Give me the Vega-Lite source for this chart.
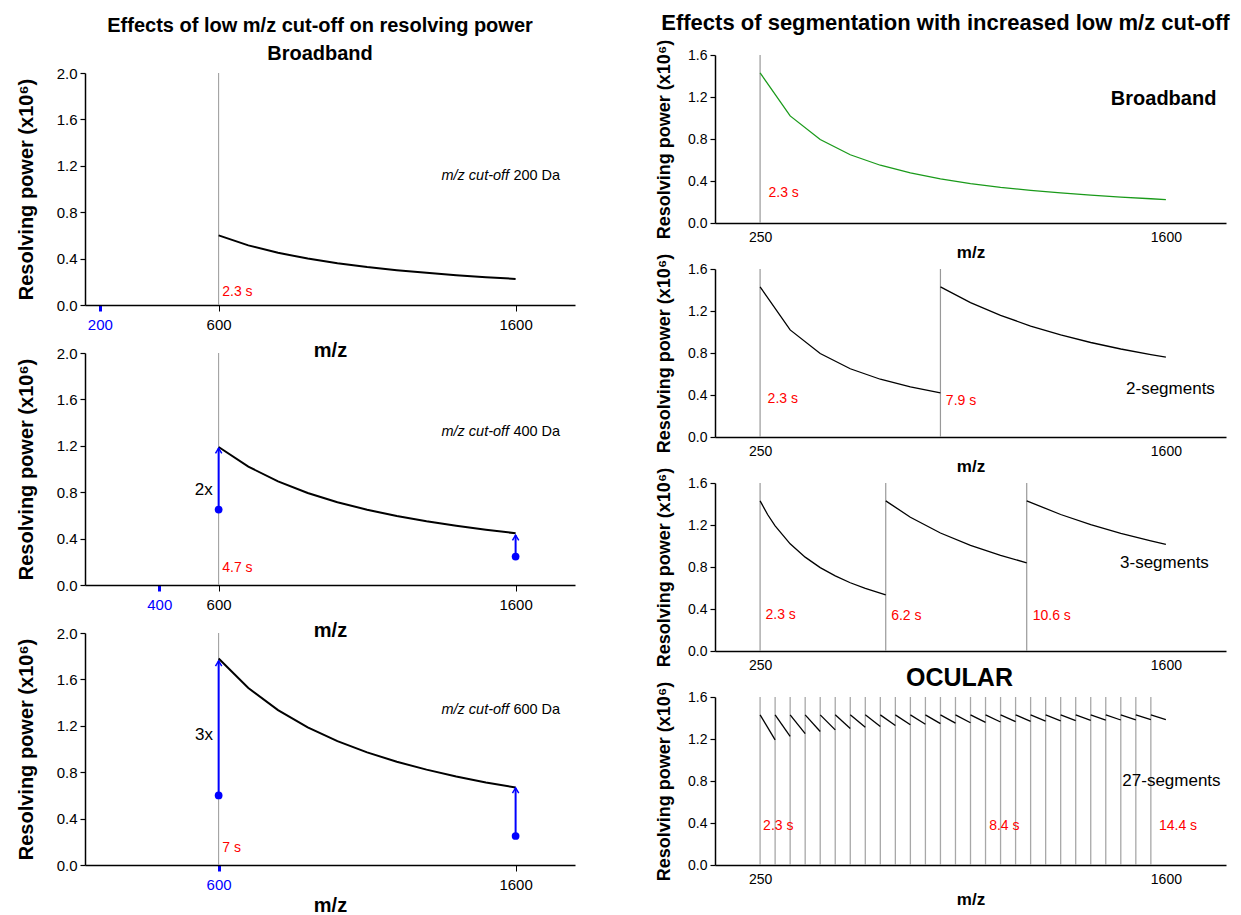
{
 "$schema": "https://vega.github.io/schema/vega-lite/v6.json",
 "padding": {"left": 16, "top": 12, "right": 2, "bottom": 0},
 "config": {
  "font": "Liberation Sans",
  "view": {"stroke": null},
  "axis": {"grid": false, "domainColor": "#000", "domainWidth": 1.5, "tickColor": "#000", "labelColor": "#000", "titleColor": "#000", "titleFontWeight": "bold", "labelFont": "Liberation Sans", "titleFont": "Liberation Sans"},
  "axisY": {"tickSize": 5, "tickWidth": 1.2, "labelPadding": 3},
  "axisX": {"tickSize": 6, "labelPadding": 3},
  "title": {"font": "Liberation Sans", "color": "#000", "fontWeight": "bold", "frame": "group"},
  "text": {"font": "Liberation Sans"}
 },
 "datasets": {
  "vlines": [
   {"p": "L200", "mz": 600, "rp": 0, "top": 2}, {"p": "L400", "mz": 600, "rp": 0, "top": 2}, {"p": "L600", "mz": 600, "rp": 0, "top": 2},
   {"p": "RB", "mz": 250, "rp": 0, "top": 1.6},
   {"p": "R2", "mz": 250, "rp": 0, "top": 1.6}, {"p": "R2", "mz": 850, "rp": 0, "top": 1.6},
   {"p": "R3", "mz": 250, "rp": 0, "top": 1.6}, {"p": "R3", "mz": 668, "rp": 0, "top": 1.6}, {"p": "R3", "mz": 1137, "rp": 0, "top": 1.6},
   {"p": "R27", "mz": 250, "rp": 0, "top": 1.6}, {"p": "R27", "mz": 300, "rp": 0, "top": 1.6}, {"p": "R27", "mz": 350, "rp": 0, "top": 1.6}, {"p": "R27", "mz": 400, "rp": 0, "top": 1.6}, {"p": "R27", "mz": 450, "rp": 0, "top": 1.6}, {"p": "R27", "mz": 500, "rp": 0, "top": 1.6}, {"p": "R27", "mz": 550, "rp": 0, "top": 1.6}, {"p": "R27", "mz": 600, "rp": 0, "top": 1.6}, {"p": "R27", "mz": 650, "rp": 0, "top": 1.6}, {"p": "R27", "mz": 700, "rp": 0, "top": 1.6}, {"p": "R27", "mz": 750, "rp": 0, "top": 1.6}, {"p": "R27", "mz": 800, "rp": 0, "top": 1.6}, {"p": "R27", "mz": 850, "rp": 0, "top": 1.6}, {"p": "R27", "mz": 900, "rp": 0, "top": 1.6}, {"p": "R27", "mz": 950, "rp": 0, "top": 1.6}, {"p": "R27", "mz": 1000, "rp": 0, "top": 1.6}, {"p": "R27", "mz": 1050, "rp": 0, "top": 1.6}, {"p": "R27", "mz": 1100, "rp": 0, "top": 1.6}, {"p": "R27", "mz": 1150, "rp": 0, "top": 1.6}, {"p": "R27", "mz": 1200, "rp": 0, "top": 1.6}, {"p": "R27", "mz": 1250, "rp": 0, "top": 1.6}, {"p": "R27", "mz": 1300, "rp": 0, "top": 1.6}, {"p": "R27", "mz": 1350, "rp": 0, "top": 1.6}, {"p": "R27", "mz": 1400, "rp": 0, "top": 1.6}, {"p": "R27", "mz": 1450, "rp": 0, "top": 1.6}, {"p": "R27", "mz": 1500, "rp": 0, "top": 1.6}, {"p": "R27", "mz": 1550, "rp": 0, "top": 1.6}
  ],
  "curves": [
   {"p": "L200", "s": 1, "mz": 600, "rp": 0.6}, {"p": "L200", "s": 1, "mz": 700, "rp": 0.514}, {"p": "L200", "s": 1, "mz": 800, "rp": 0.45}, {"p": "L200", "s": 1, "mz": 900, "rp": 0.4}, {"p": "L200", "s": 1, "mz": 1000, "rp": 0.36}, {"p": "L200", "s": 1, "mz": 1100, "rp": 0.327}, {"p": "L200", "s": 1, "mz": 1200, "rp": 0.3}, {"p": "L200", "s": 1, "mz": 1300, "rp": 0.277}, {"p": "L200", "s": 1, "mz": 1400, "rp": 0.257}, {"p": "L200", "s": 1, "mz": 1500, "rp": 0.24}, {"p": "L200", "s": 1, "mz": 1600, "rp": 0.225},
   {"p": "L400", "s": 1, "mz": 600, "rp": 1.19}, {"p": "L400", "s": 1, "mz": 700, "rp": 1.02}, {"p": "L400", "s": 1, "mz": 800, "rp": 0.893}, {"p": "L400", "s": 1, "mz": 900, "rp": 0.793}, {"p": "L400", "s": 1, "mz": 1000, "rp": 0.714}, {"p": "L400", "s": 1, "mz": 1100, "rp": 0.649}, {"p": "L400", "s": 1, "mz": 1200, "rp": 0.595}, {"p": "L400", "s": 1, "mz": 1300, "rp": 0.549}, {"p": "L400", "s": 1, "mz": 1400, "rp": 0.51}, {"p": "L400", "s": 1, "mz": 1500, "rp": 0.476}, {"p": "L400", "s": 1, "mz": 1600, "rp": 0.446},
   {"p": "L600", "s": 1, "mz": 600, "rp": 1.78}, {"p": "L600", "s": 1, "mz": 700, "rp": 1.526}, {"p": "L600", "s": 1, "mz": 800, "rp": 1.335}, {"p": "L600", "s": 1, "mz": 900, "rp": 1.187}, {"p": "L600", "s": 1, "mz": 1000, "rp": 1.068}, {"p": "L600", "s": 1, "mz": 1100, "rp": 0.971}, {"p": "L600", "s": 1, "mz": 1200, "rp": 0.89}, {"p": "L600", "s": 1, "mz": 1300, "rp": 0.822}, {"p": "L600", "s": 1, "mz": 1400, "rp": 0.763}, {"p": "L600", "s": 1, "mz": 1500, "rp": 0.712}, {"p": "L600", "s": 1, "mz": 1600, "rp": 0.668},
   {"p": "RB", "s": 1, "mz": 250, "rp": 1.43}, {"p": "RB", "s": 1, "mz": 350, "rp": 1.02}, {"p": "RB", "s": 1, "mz": 450, "rp": 0.795}, {"p": "RB", "s": 1, "mz": 550, "rp": 0.65}, {"p": "RB", "s": 1, "mz": 650, "rp": 0.55}, {"p": "RB", "s": 1, "mz": 750, "rp": 0.477}, {"p": "RB", "s": 1, "mz": 850, "rp": 0.42}, {"p": "RB", "s": 1, "mz": 950, "rp": 0.376}, {"p": "RB", "s": 1, "mz": 1050, "rp": 0.34}, {"p": "RB", "s": 1, "mz": 1150, "rp": 0.311}, {"p": "RB", "s": 1, "mz": 1250, "rp": 0.286}, {"p": "RB", "s": 1, "mz": 1350, "rp": 0.265}, {"p": "RB", "s": 1, "mz": 1450, "rp": 0.247}, {"p": "RB", "s": 1, "mz": 1550, "rp": 0.231}, {"p": "RB", "s": 1, "mz": 1600, "rp": 0.223},
   {"p": "R2", "s": 1, "mz": 250, "rp": 1.43}, {"p": "R2", "s": 1, "mz": 350, "rp": 1.02}, {"p": "R2", "s": 1, "mz": 450, "rp": 0.795}, {"p": "R2", "s": 1, "mz": 550, "rp": 0.65}, {"p": "R2", "s": 1, "mz": 650, "rp": 0.55}, {"p": "R2", "s": 1, "mz": 750, "rp": 0.477}, {"p": "R2", "s": 1, "mz": 850, "rp": 0.42},
   {"p": "R2", "s": 2, "mz": 850, "rp": 1.43}, {"p": "R2", "s": 2, "mz": 950, "rp": 1.28}, {"p": "R2", "s": 2, "mz": 1050, "rp": 1.158}, {"p": "R2", "s": 2, "mz": 1150, "rp": 1.057}, {"p": "R2", "s": 2, "mz": 1250, "rp": 0.972}, {"p": "R2", "s": 2, "mz": 1350, "rp": 0.9}, {"p": "R2", "s": 2, "mz": 1450, "rp": 0.838}, {"p": "R2", "s": 2, "mz": 1550, "rp": 0.784}, {"p": "R2", "s": 2, "mz": 1600, "rp": 0.76},
   {"p": "R3", "s": 1, "mz": 250, "rp": 1.43}, {"p": "R3", "s": 1, "mz": 275, "rp": 1.3}, {"p": "R3", "s": 1, "mz": 300, "rp": 1.192}, {"p": "R3", "s": 1, "mz": 350, "rp": 1.021}, {"p": "R3", "s": 1, "mz": 400, "rp": 0.894}, {"p": "R3", "s": 1, "mz": 450, "rp": 0.794}, {"p": "R3", "s": 1, "mz": 500, "rp": 0.715}, {"p": "R3", "s": 1, "mz": 550, "rp": 0.65}, {"p": "R3", "s": 1, "mz": 600, "rp": 0.596}, {"p": "R3", "s": 1, "mz": 668, "rp": 0.535},
   {"p": "R3", "s": 2, "mz": 668, "rp": 1.43}, {"p": "R3", "s": 2, "mz": 750, "rp": 1.274}, {"p": "R3", "s": 2, "mz": 850, "rp": 1.124}, {"p": "R3", "s": 2, "mz": 950, "rp": 1.005}, {"p": "R3", "s": 2, "mz": 1050, "rp": 0.91}, {"p": "R3", "s": 2, "mz": 1137, "rp": 0.84},
   {"p": "R3", "s": 3, "mz": 1137, "rp": 1.43}, {"p": "R3", "s": 3, "mz": 1250, "rp": 1.3}, {"p": "R3", "s": 3, "mz": 1350, "rp": 1.204}, {"p": "R3", "s": 3, "mz": 1450, "rp": 1.121}, {"p": "R3", "s": 3, "mz": 1550, "rp": 1.049}, {"p": "R3", "s": 3, "mz": 1600, "rp": 1.016},
   {"p": "R27", "s": 1, "mz": 250, "rp": 1.43}, {"p": "R27", "s": 1, "mz": 300, "rp": 1.192},
   {"p": "R27", "s": 2, "mz": 300, "rp": 1.43}, {"p": "R27", "s": 2, "mz": 350, "rp": 1.226},
   {"p": "R27", "s": 3, "mz": 350, "rp": 1.43}, {"p": "R27", "s": 3, "mz": 400, "rp": 1.251},
   {"p": "R27", "s": 4, "mz": 400, "rp": 1.43}, {"p": "R27", "s": 4, "mz": 450, "rp": 1.271},
   {"p": "R27", "s": 5, "mz": 450, "rp": 1.43}, {"p": "R27", "s": 5, "mz": 500, "rp": 1.287},
   {"p": "R27", "s": 6, "mz": 500, "rp": 1.43}, {"p": "R27", "s": 6, "mz": 550, "rp": 1.3},
   {"p": "R27", "s": 7, "mz": 550, "rp": 1.43}, {"p": "R27", "s": 7, "mz": 600, "rp": 1.311},
   {"p": "R27", "s": 8, "mz": 600, "rp": 1.43}, {"p": "R27", "s": 8, "mz": 650, "rp": 1.32},
   {"p": "R27", "s": 9, "mz": 650, "rp": 1.43}, {"p": "R27", "s": 9, "mz": 700, "rp": 1.328},
   {"p": "R27", "s": 10, "mz": 700, "rp": 1.43}, {"p": "R27", "s": 10, "mz": 750, "rp": 1.335},
   {"p": "R27", "s": 11, "mz": 750, "rp": 1.43}, {"p": "R27", "s": 11, "mz": 800, "rp": 1.341},
   {"p": "R27", "s": 12, "mz": 800, "rp": 1.43}, {"p": "R27", "s": 12, "mz": 850, "rp": 1.346},
   {"p": "R27", "s": 13, "mz": 850, "rp": 1.43}, {"p": "R27", "s": 13, "mz": 900, "rp": 1.351},
   {"p": "R27", "s": 14, "mz": 900, "rp": 1.43}, {"p": "R27", "s": 14, "mz": 950, "rp": 1.355},
   {"p": "R27", "s": 15, "mz": 950, "rp": 1.43}, {"p": "R27", "s": 15, "mz": 1000, "rp": 1.359},
   {"p": "R27", "s": 16, "mz": 1000, "rp": 1.43}, {"p": "R27", "s": 16, "mz": 1050, "rp": 1.362},
   {"p": "R27", "s": 17, "mz": 1050, "rp": 1.43}, {"p": "R27", "s": 17, "mz": 1100, "rp": 1.365},
   {"p": "R27", "s": 18, "mz": 1100, "rp": 1.43}, {"p": "R27", "s": 18, "mz": 1150, "rp": 1.368},
   {"p": "R27", "s": 19, "mz": 1150, "rp": 1.43}, {"p": "R27", "s": 19, "mz": 1200, "rp": 1.37},
   {"p": "R27", "s": 20, "mz": 1200, "rp": 1.43}, {"p": "R27", "s": 20, "mz": 1250, "rp": 1.373},
   {"p": "R27", "s": 21, "mz": 1250, "rp": 1.43}, {"p": "R27", "s": 21, "mz": 1300, "rp": 1.375},
   {"p": "R27", "s": 22, "mz": 1300, "rp": 1.43}, {"p": "R27", "s": 22, "mz": 1350, "rp": 1.377},
   {"p": "R27", "s": 23, "mz": 1350, "rp": 1.43}, {"p": "R27", "s": 23, "mz": 1400, "rp": 1.379},
   {"p": "R27", "s": 24, "mz": 1400, "rp": 1.43}, {"p": "R27", "s": 24, "mz": 1450, "rp": 1.381},
   {"p": "R27", "s": 25, "mz": 1450, "rp": 1.43}, {"p": "R27", "s": 25, "mz": 1500, "rp": 1.382},
   {"p": "R27", "s": 26, "mz": 1500, "rp": 1.43}, {"p": "R27", "s": 26, "mz": 1550, "rp": 1.384},
   {"p": "R27", "s": 27, "mz": 1550, "rp": 1.43}, {"p": "R27", "s": 27, "mz": 1600, "rp": 1.385}
  ],
  "times": [
   {"p": "L200", "mz": 612, "rp": 0.115, "t": "2.3 s"},
   {"p": "L400", "mz": 612, "rp": 0.145, "t": "4.7 s"},
   {"p": "L600", "mz": 612, "rp": 0.15, "t": "7 s"},
   {"p": "RB", "mz": 278, "rp": 0.29, "t": "2.3 s"},
   {"p": "R2", "mz": 275, "rp": 0.36, "t": "2.3 s"}, {"p": "R2", "mz": 868, "rp": 0.34, "t": "7.9 s"},
   {"p": "R3", "mz": 268, "rp": 0.345, "t": "2.3 s"}, {"p": "R3", "mz": 686, "rp": 0.33, "t": "6.2 s"}, {"p": "R3", "mz": 1157, "rp": 0.33, "t": "10.6 s"},
   {"p": "R27", "mz": 260, "rp": 0.37, "t": "2.3 s"}, {"p": "R27", "mz": 1012, "rp": 0.37, "t": "8.4 s"}, {"p": "R27", "mz": 1577, "rp": 0.37, "t": "14.4 s"}
  ],
  "notes": [
   {"p": "L200", "mz": 1750, "rp": 1.11, "em": "m/z cut-off", "t": "200 Da"},
   {"p": "L400", "mz": 1750, "rp": 1.32, "em": "m/z cut-off", "t": "400 Da"},
   {"p": "L600", "mz": 1750, "rp": 1.335, "em": "m/z cut-off", "t": "600 Da"},
   {"p": "RB", "mz": 1768, "rp": 1.18, "t": "Broadband"},
   {"p": "R2", "mz": 1763, "rp": 0.457, "t": "2-segments"},
   {"p": "R3", "mz": 1743, "rp": 0.84, "t": "3-segments"},
   {"p": "R27", "mz": 1782, "rp": 0.8, "t": "27-segments"}
  ],
  "mults": [
   {"p": "L400", "mz": 550, "rp": 0.82, "t": "2x"},
   {"p": "L600", "mz": 551, "rp": 1.12, "t": "3x"}
  ],
  "arrows": [
   {"p": "L400", "mz": 600, "rp": 0.65, "tip": 1.18},
   {"p": "L400", "mz": 1600, "rp": 0.245, "tip": 0.43},
   {"p": "L600", "mz": 600, "rp": 0.6, "tip": 1.76},
   {"p": "L600", "mz": 1600, "rp": 0.25, "tip": 0.665}
  ]
 },
 "hconcat": [
  {
   "bounds": "flush",
   "spacing": 0,
   "vconcat": [
    {
     "width": 490, "height": 18,
     "data": {"values": []},
     "mark": {"type": "point", "opacity": 0},
     "encoding": {}
    },
    {
     "bounds": "flush",
     "spacing": 48,
     "vconcat": [
      {
       "width": 490, "height": 232,
       "title": {"text": ["Effects of low m/z cut-off on resolving power", "Broadband"], "fontSize": 20, "lineHeight": 28, "offset": 2, "dx": -10},
       "encoding": {
        "x": {"field": "mz", "type": "quantitative", "scale": {"domain": [150, 1800], "nice": false, "zero": false},
              "axis": {"values": [200, 600, 1600], "format": "d", "title": "m/z", "labelFontSize": 15, "labelPadding": 6, "titleFontSize": 20, "titlePadding": 8,
                       "labelColor": {"condition": {"test": "datum.value === 200", "value": "#0000ff"}, "value": "#000"},
                       "tickColor": {"condition": {"test": "datum.value === 200", "value": "#0000ff"}, "value": "#000"},
                       "tickWidth": {"condition": {"test": "datum.value === 200", "value": 3}, "value": 1}}},
        "y": {"field": "rp", "type": "quantitative", "scale": {"domain": [0, 2], "nice": false},
              "axis": {"values": [0, 0.4, 0.8, 1.2, 1.6, 2.0], "format": ".1f", "title": "Resolving power (x10⁶)", "labelFontSize": 15, "titleFontSize": 20, "titlePadding": 20}}
       },
       "layer": [
        {"data": {"name": "vlines"}, "transform": [{"filter": "datum.p === 'L200'"}], "mark": {"type": "rule", "color": "#999", "strokeWidth": 1}, "encoding": {"y2": {"field": "top"}}},
        {"data": {"name": "curves"}, "transform": [{"filter": "datum.p === 'L200'"}], "mark": {"type": "line", "color": "#000", "strokeWidth": 2}, "encoding": {"detail": {"field": "s", "type": "nominal"}}},
        {"data": {"name": "times"}, "transform": [{"filter": "datum.p === 'L200'"}], "mark": {"type": "text", "color": "#ff0000", "fontSize": 14, "align": "left", "baseline": "middle"}, "encoding": {"text": {"field": "t"}}},
        {"data": {"name": "notes"}, "transform": [{"filter": "datum.p === 'L200'"}], "mark": {"type": "text", "color": "#000", "fontSize": 14.5, "align": "right", "baseline": "middle", "fontStyle": "italic", "dx": -51}, "encoding": {"text": {"field": "em"}}},
        {"data": {"name": "notes"}, "transform": [{"filter": "datum.p === 'L200'"}], "mark": {"type": "text", "color": "#000", "fontSize": 14.5, "align": "right", "baseline": "middle"}, "encoding": {"text": {"field": "t"}}}
       ]
      },
      {
       "width": 490, "height": 232,
       "encoding": {
        "x": {"field": "mz", "type": "quantitative", "scale": {"domain": [150, 1800], "nice": false, "zero": false},
              "axis": {"values": [400, 600, 1600], "format": "d", "title": "m/z", "labelFontSize": 15, "labelPadding": 6, "titleFontSize": 20, "titlePadding": 8,
                       "labelColor": {"condition": {"test": "datum.value === 400", "value": "#0000ff"}, "value": "#000"},
                       "tickColor": {"condition": {"test": "datum.value === 400", "value": "#0000ff"}, "value": "#000"},
                       "tickWidth": {"condition": {"test": "datum.value === 400", "value": 3}, "value": 1}}},
        "y": {"field": "rp", "type": "quantitative", "scale": {"domain": [0, 2], "nice": false},
              "axis": {"values": [0, 0.4, 0.8, 1.2, 1.6, 2.0], "format": ".1f", "title": "Resolving power (x10⁶)", "labelFontSize": 15, "titleFontSize": 20, "titlePadding": 20}}
       },
       "layer": [
        {"data": {"name": "vlines"}, "transform": [{"filter": "datum.p === 'L400'"}], "mark": {"type": "rule", "color": "#999", "strokeWidth": 1}, "encoding": {"y2": {"field": "top"}}},
        {"data": {"name": "curves"}, "transform": [{"filter": "datum.p === 'L400'"}], "mark": {"type": "line", "color": "#000", "strokeWidth": 2}, "encoding": {"detail": {"field": "s", "type": "nominal"}}},
        {"data": {"name": "arrows"}, "transform": [{"filter": "datum.p === 'L400'"}], "mark": {"type": "rule", "color": "#0000ff", "strokeWidth": 2}, "encoding": {"y2": {"field": "tip"}}},
        {"data": {"name": "arrows"}, "transform": [{"filter": "datum.p === 'L400'"}], "mark": {"type": "point", "filled": true, "color": "#0000ff", "size": 60, "opacity": 1}},
        {"data": {"name": "arrows"}, "transform": [{"filter": "datum.p === 'L400'"}], "mark": {"type": "point", "shape": "M-0.6,1L0,0L0.6,1", "filled": false, "color": "#0000ff", "strokeWidth": 1.5, "size": 110, "opacity": 1}, "encoding": {"y": {"field": "tip", "type": "quantitative"}}},
        {"data": {"name": "mults"}, "transform": [{"filter": "datum.p === 'L400'"}], "mark": {"type": "text", "color": "#000", "fontSize": 17, "align": "center", "baseline": "middle"}, "encoding": {"text": {"field": "t"}}},
        {"data": {"name": "times"}, "transform": [{"filter": "datum.p === 'L400'"}], "mark": {"type": "text", "color": "#ff0000", "fontSize": 14, "align": "left", "baseline": "middle"}, "encoding": {"text": {"field": "t"}}},
        {"data": {"name": "notes"}, "transform": [{"filter": "datum.p === 'L400'"}], "mark": {"type": "text", "color": "#000", "fontSize": 14.5, "align": "right", "baseline": "middle", "fontStyle": "italic", "dx": -51}, "encoding": {"text": {"field": "em"}}},
        {"data": {"name": "notes"}, "transform": [{"filter": "datum.p === 'L400'"}], "mark": {"type": "text", "color": "#000", "fontSize": 14.5, "align": "right", "baseline": "middle"}, "encoding": {"text": {"field": "t"}}}
       ]
      },
      {
       "width": 490, "height": 232,
       "encoding": {
        "x": {"field": "mz", "type": "quantitative", "scale": {"domain": [150, 1800], "nice": false, "zero": false},
              "axis": {"values": [600, 1600], "format": "d", "title": "m/z", "labelFontSize": 15, "labelPadding": 6, "titleFontSize": 20, "titlePadding": 3,
                       "labelColor": {"condition": {"test": "datum.value === 600", "value": "#0000ff"}, "value": "#000"},
                       "tickColor": {"condition": {"test": "datum.value === 600", "value": "#0000ff"}, "value": "#000"},
                       "tickWidth": {"condition": {"test": "datum.value === 600", "value": 3}, "value": 1}}},
        "y": {"field": "rp", "type": "quantitative", "scale": {"domain": [0, 2], "nice": false},
              "axis": {"values": [0, 0.4, 0.8, 1.2, 1.6, 2.0], "format": ".1f", "title": "Resolving power (x10⁶)", "labelFontSize": 15, "titleFontSize": 20, "titlePadding": 20}}
       },
       "layer": [
        {"data": {"name": "vlines"}, "transform": [{"filter": "datum.p === 'L600'"}], "mark": {"type": "rule", "color": "#999", "strokeWidth": 1}, "encoding": {"y2": {"field": "top"}}},
        {"data": {"name": "curves"}, "transform": [{"filter": "datum.p === 'L600'"}], "mark": {"type": "line", "color": "#000", "strokeWidth": 2}, "encoding": {"detail": {"field": "s", "type": "nominal"}}},
        {"data": {"name": "arrows"}, "transform": [{"filter": "datum.p === 'L600'"}], "mark": {"type": "rule", "color": "#0000ff", "strokeWidth": 2}, "encoding": {"y2": {"field": "tip"}}},
        {"data": {"name": "arrows"}, "transform": [{"filter": "datum.p === 'L600'"}], "mark": {"type": "point", "filled": true, "color": "#0000ff", "size": 60, "opacity": 1}},
        {"data": {"name": "arrows"}, "transform": [{"filter": "datum.p === 'L600'"}], "mark": {"type": "point", "shape": "M-0.6,1L0,0L0.6,1", "filled": false, "color": "#0000ff", "strokeWidth": 1.5, "size": 110, "opacity": 1}, "encoding": {"y": {"field": "tip", "type": "quantitative"}}},
        {"data": {"name": "mults"}, "transform": [{"filter": "datum.p === 'L600'"}], "mark": {"type": "text", "color": "#000", "fontSize": 17, "align": "center", "baseline": "middle"}, "encoding": {"text": {"field": "t"}}},
        {"data": {"name": "times"}, "transform": [{"filter": "datum.p === 'L600'"}], "mark": {"type": "text", "color": "#ff0000", "fontSize": 14, "align": "left", "baseline": "middle"}, "encoding": {"text": {"field": "t"}}},
        {"data": {"name": "notes"}, "transform": [{"filter": "datum.p === 'L600'"}], "mark": {"type": "text", "color": "#000", "fontSize": 14.5, "align": "right", "baseline": "middle", "fontStyle": "italic", "dx": -51}, "encoding": {"text": {"field": "em"}}},
        {"data": {"name": "notes"}, "transform": [{"filter": "datum.p === 'L600'"}], "mark": {"type": "text", "color": "#000", "fontSize": 14.5, "align": "right", "baseline": "middle"}, "encoding": {"text": {"field": "t"}}}
       ]
      }
     ]
    }
   ]
  },
  {
   "bounds": "flush",
   "spacing": 46,
   "vconcat": [
    {
     "width": 511, "height": 168,
     "title": {"text": "Effects of segmentation with increased low m/z cut-off", "fontSize": 22, "offset": 4, "dx": -25},
     "encoding": {
      "x": {"field": "mz", "type": "quantitative", "scale": {"domain": [100, 1800], "nice": false, "zero": false},
            "axis": {"values": [250, 1600], "format": "d", "title": "m/z", "ticks": false, "labelPadding": 7, "labelFontSize": 14, "titleFontSize": 17, "titlePadding": 0}},
      "y": {"field": "rp", "type": "quantitative", "scale": {"domain": [0, 1.6], "nice": false},
            "axis": {"values": [0, 0.4, 0.8, 1.2, 1.6], "format": ".1f", "title": "Resolving power (x10⁶)", "labelFontSize": 14, "titleFontSize": 18, "titlePadding": 14}}
     },
     "layer": [
      {"data": {"name": "vlines"}, "transform": [{"filter": "datum.p === 'RB'"}], "mark": {"type": "rule", "color": "#999", "strokeWidth": 1.2}, "encoding": {"y2": {"field": "top"}}},
      {"data": {"name": "curves"}, "transform": [{"filter": "datum.p === 'RB'"}], "mark": {"type": "line", "color": "#1a9a1a", "strokeWidth": 1.3}, "encoding": {"detail": {"field": "s", "type": "nominal"}}},
      {"data": {"name": "times"}, "transform": [{"filter": "datum.p === 'RB'"}], "mark": {"type": "text", "color": "#ff0000", "fontSize": 14, "align": "left", "baseline": "middle"}, "encoding": {"text": {"field": "t"}}},
      {"data": {"name": "notes"}, "transform": [{"filter": "datum.p === 'RB'"}], "mark": {"type": "text", "color": "#000", "fontSize": 20, "fontWeight": "bold", "align": "right", "baseline": "middle"}, "encoding": {"text": {"field": "t"}}}
     ]
    },
    {
     "width": 511, "height": 168,
     "encoding": {
      "x": {"field": "mz", "type": "quantitative", "scale": {"domain": [100, 1800], "nice": false, "zero": false},
            "axis": {"values": [250, 1600], "format": "d", "title": "m/z", "ticks": false, "labelPadding": 7, "labelFontSize": 14, "titleFontSize": 17, "titlePadding": 0}},
      "y": {"field": "rp", "type": "quantitative", "scale": {"domain": [0, 1.6], "nice": false},
            "axis": {"values": [0, 0.4, 0.8, 1.2, 1.6], "format": ".1f", "title": "Resolving power (x10⁶)", "labelFontSize": 14, "titleFontSize": 18, "titlePadding": 14}}
     },
     "layer": [
      {"data": {"name": "vlines"}, "transform": [{"filter": "datum.p === 'R2'"}], "mark": {"type": "rule", "color": "#999", "strokeWidth": 1.2}, "encoding": {"y2": {"field": "top"}}},
      {"data": {"name": "curves"}, "transform": [{"filter": "datum.p === 'R2'"}], "mark": {"type": "line", "color": "#000", "strokeWidth": 1.3}, "encoding": {"detail": {"field": "s", "type": "nominal"}}},
      {"data": {"name": "times"}, "transform": [{"filter": "datum.p === 'R2'"}], "mark": {"type": "text", "color": "#ff0000", "fontSize": 14, "align": "left", "baseline": "middle"}, "encoding": {"text": {"field": "t"}}},
      {"data": {"name": "notes"}, "transform": [{"filter": "datum.p === 'R2'"}], "mark": {"type": "text", "color": "#000", "fontSize": 17, "align": "right", "baseline": "middle"}, "encoding": {"text": {"field": "t"}}}
     ]
    },
    {
     "width": 511, "height": 168,
     "encoding": {
      "x": {"field": "mz", "type": "quantitative", "scale": {"domain": [100, 1800], "nice": false, "zero": false},
            "axis": {"values": [250, 1600], "format": "d", "title": null, "ticks": false, "labelPadding": 7, "labelFontSize": 14}},
      "y": {"field": "rp", "type": "quantitative", "scale": {"domain": [0, 1.6], "nice": false},
            "axis": {"values": [0, 0.4, 0.8, 1.2, 1.6], "format": ".1f", "title": "Resolving power (x10⁶)", "labelFontSize": 14, "titleFontSize": 18, "titlePadding": 14}}
     },
     "layer": [
      {"data": {"name": "vlines"}, "transform": [{"filter": "datum.p === 'R3'"}], "mark": {"type": "rule", "color": "#999", "strokeWidth": 1.2}, "encoding": {"y2": {"field": "top"}}},
      {"data": {"name": "curves"}, "transform": [{"filter": "datum.p === 'R3'"}], "mark": {"type": "line", "color": "#000", "strokeWidth": 1.3}, "encoding": {"detail": {"field": "s", "type": "nominal"}}},
      {"data": {"name": "times"}, "transform": [{"filter": "datum.p === 'R3'"}], "mark": {"type": "text", "color": "#ff0000", "fontSize": 14, "align": "left", "baseline": "middle"}, "encoding": {"text": {"field": "t"}}},
      {"data": {"name": "notes"}, "transform": [{"filter": "datum.p === 'R3'"}], "mark": {"type": "text", "color": "#000", "fontSize": 17, "align": "right", "baseline": "middle"}, "encoding": {"text": {"field": "t"}}}
     ]
    },
    {
     "width": 511, "height": 168,
     "title": {"text": "OCULAR", "fontSize": 25, "offset": -10, "dx": -11},
     "encoding": {
      "x": {"field": "mz", "type": "quantitative", "scale": {"domain": [100, 1800], "nice": false, "zero": false},
            "axis": {"values": [250, 1600], "format": "d", "title": "m/z", "ticks": false, "labelPadding": 7, "labelFontSize": 14, "titleFontSize": 17, "titlePadding": 5}},
      "y": {"field": "rp", "type": "quantitative", "scale": {"domain": [0, 1.6], "nice": false},
            "axis": {"values": [0, 0.4, 0.8, 1.2, 1.6], "format": ".1f", "title": "Resolving power (x10⁶)", "labelFontSize": 14, "titleFontSize": 18, "titlePadding": 14}}
     },
     "layer": [
      {"data": {"name": "vlines"}, "transform": [{"filter": "datum.p === 'R27'"}], "mark": {"type": "rule", "color": "#a8a8a8", "strokeWidth": 1.3}, "encoding": {"y2": {"field": "top"}}},
      {"data": {"name": "curves"}, "transform": [{"filter": "datum.p === 'R27'"}], "mark": {"type": "line", "color": "#000", "strokeWidth": 1.3}, "encoding": {"detail": {"field": "s", "type": "nominal"}}},
      {"data": {"name": "times"}, "transform": [{"filter": "datum.p === 'R27'"}], "mark": {"type": "text", "color": "#ff0000", "fontSize": 14, "align": "left", "baseline": "middle"}, "encoding": {"text": {"field": "t"}}},
      {"data": {"name": "notes"}, "transform": [{"filter": "datum.p === 'R27'"}], "mark": {"type": "text", "color": "#000", "fontSize": 17, "align": "right", "baseline": "middle"}, "encoding": {"text": {"field": "t"}}}
     ]
    }
   ]
  }
 ],
 "spacing": 80
}
